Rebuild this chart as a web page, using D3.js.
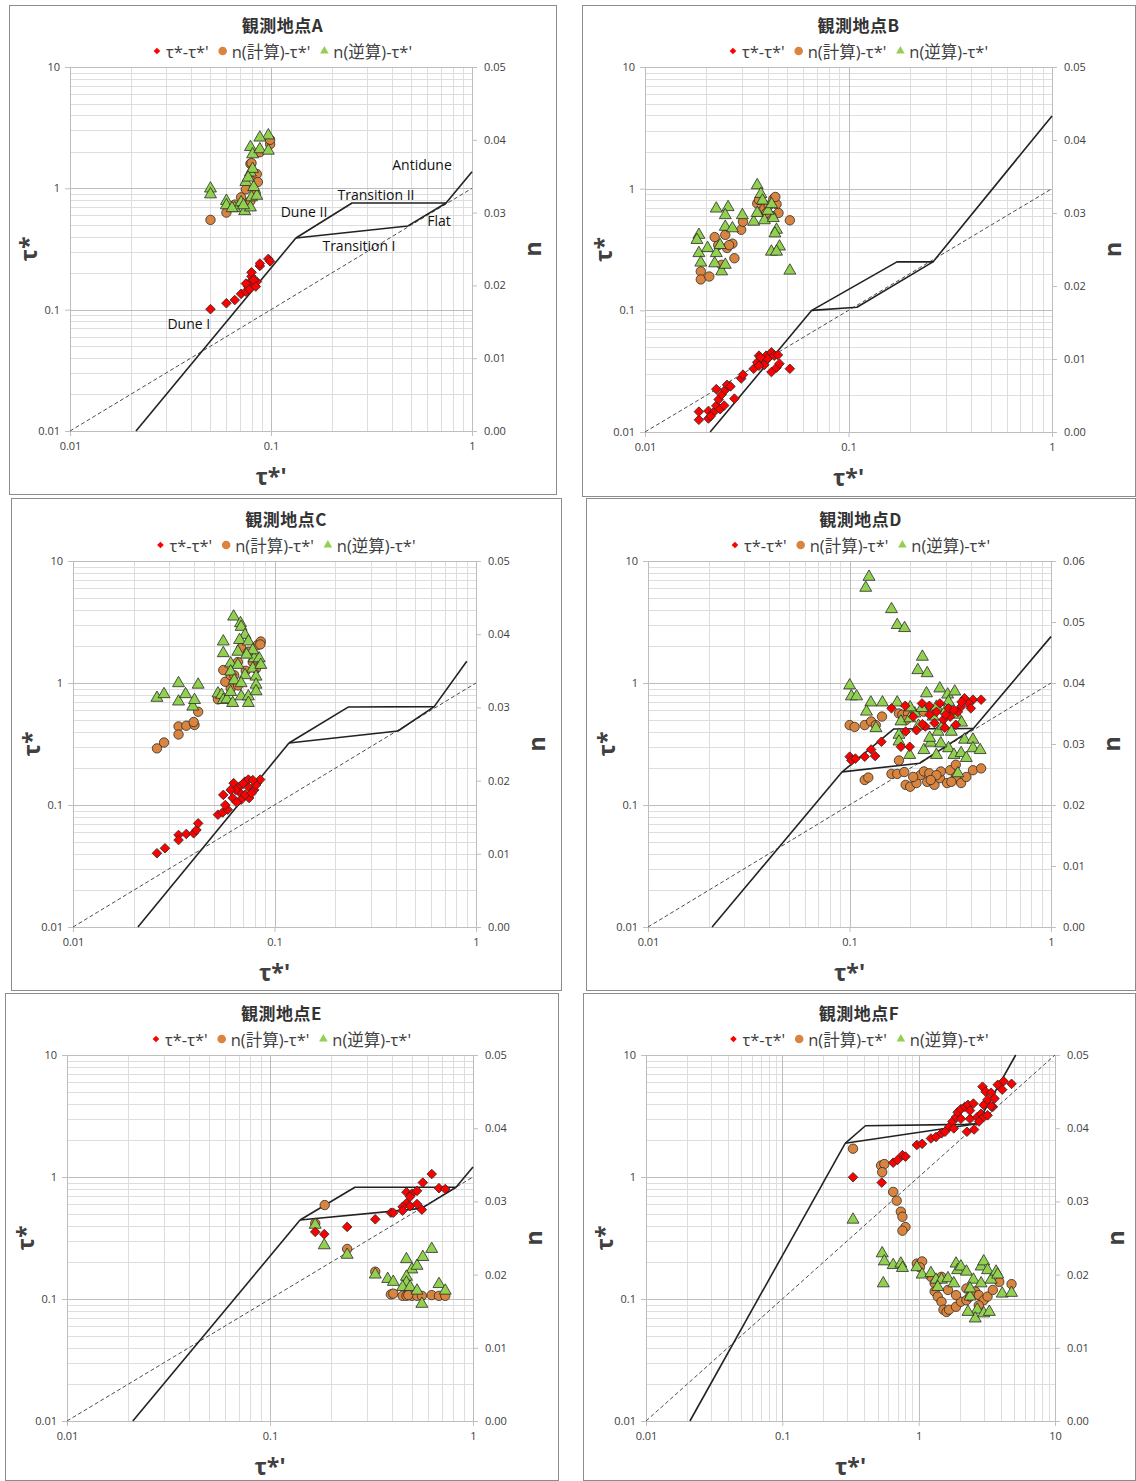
<!DOCTYPE html>
<html>
<head>
<meta charset="utf-8">
<script src="https://cdn.jsdelivr.net/npm/d3@7"></script>
<style>
  body { margin: 0; background: #fff; }
  svg { display: block; }
</style>
</head>
<body>
<svg id="chart" width="1136" height="1481"></svg>
<script>
// ---- data: [tau*', value] ----
const A_tau = [[0.050,0.101],[0.060,0.113],[0.066,0.120],[0.071,0.135],[0.075,0.141],[0.077,0.155],[0.079,0.170],[0.080,0.188],[0.075,0.164],[0.085,0.170],[0.080,0.203],[0.088,0.229],[0.088,0.240],[0.097,0.262],[0.099,0.250],[0.082,0.175],[0.078,0.147],[0.084,0.155]];
const A_nCalc = [[0.050,0.0290],[0.060,0.0300],[0.066,0.0311],[0.071,0.0321],[0.075,0.0332],[0.079,0.0367],[0.080,0.0368],[0.082,0.0351],[0.085,0.0353],[0.086,0.0342],[0.088,0.0383],[0.099,0.0394],[0.099,0.0400],[0.079,0.0316],[0.084,0.0326]];
const A_nInv = [[0.050,0.0333],[0.050,0.0325],[0.060,0.0316],[0.060,0.0310],[0.066,0.0306],[0.071,0.0314],[0.074,0.0302],[0.079,0.0307],[0.080,0.0321],[0.075,0.0342],[0.079,0.0355],[0.081,0.0360],[0.079,0.0390],[0.081,0.0380],[0.088,0.0387],[0.097,0.0406],[0.097,0.0385],[0.088,0.0403],[0.085,0.0323],[0.082,0.0335],[0.073,0.0310],[0.064,0.0306],[0.077,0.0348]];
const A_dune = [[0.0213,0.01],[0.133,0.39]];
const A_upper = [[0.133,0.39],[0.253,0.757],[0.743,0.757],[1.0,1.37]];
const A_lower = [[0.133,0.39],[0.48,0.49],[0.743,0.757]];
const A_names = [["Antidune",0.564,1.56],["Transition II",0.333,0.898],["Dune II",0.146,0.65],["Flat",0.686,0.548],["Transition I",0.274,0.335],["Dune I",0.039,0.0762]];

const B_tau = [[0.0184,0.0126],[0.0184,0.0147],[0.0205,0.0149],[0.0205,0.0129],[0.0217,0.0145],[0.0224,0.0164],[0.0234,0.0154],[0.0230,0.0185],[0.0238,0.0203],[0.0248,0.0222],[0.0224,0.0225],[0.0253,0.0244],[0.0263,0.0237],[0.0275,0.0188],[0.0297,0.0275],[0.0303,0.0296],[0.0342,0.0331],[0.0356,0.0374],[0.0363,0.0424],[0.0378,0.0398],[0.0394,0.0424],[0.0418,0.0452],[0.0432,0.0424],[0.0418,0.0311],[0.0443,0.0338],[0.0458,0.0364],[0.0515,0.0331],[0.0386,0.0356],[0.0363,0.0350],[0.0400,0.0400],[0.0450,0.0430],[0.0370,0.0410],[0.0245,0.0165],[0.0210,0.0135]];
const B_nCalc = [[0.0188,0.0220],[0.0188,0.0209],[0.0207,0.0213],[0.0238,0.0229],[0.0275,0.0238],[0.0253,0.0252],[0.0269,0.0258],[0.0229,0.0256],[0.0259,0.0256],[0.0297,0.0277],[0.0303,0.0288],[0.0356,0.0313],[0.0386,0.0306],[0.0427,0.0319],[0.0443,0.0312],[0.0453,0.0300],[0.0515,0.0290],[0.0418,0.0296],[0.0363,0.0318],[0.0394,0.0300],[0.0220,0.0267],[0.0248,0.0270],[0.0437,0.0322],[0.0405,0.0310]];
const B_nInv = [[0.0356,0.0338],[0.0371,0.0326],[0.0224,0.0306],[0.0256,0.0308],[0.0248,0.0297],[0.0301,0.0297],[0.0248,0.0281],[0.0269,0.0279],[0.0184,0.0270],[0.0342,0.0288],[0.0386,0.0290],[0.0427,0.0293],[0.0443,0.0277],[0.0356,0.0300],[0.0402,0.0303],[0.0419,0.0312],[0.0378,0.0317],[0.0435,0.0272],[0.0184,0.0245],[0.0188,0.0232],[0.0203,0.0252],[0.0224,0.0245],[0.0220,0.0231],[0.0238,0.0220],[0.0248,0.0229],[0.0418,0.0247],[0.0458,0.0254],[0.0443,0.0247],[0.0515,0.0221],[0.0180,0.0263],[0.0234,0.0256]];
const B_dune = [[0.0209,0.01],[0.066,0.1]];
const B_upper = [[0.066,0.1],[0.173,0.25],[0.26,0.25],[1.0,3.96]];
const B_lower = [[0.066,0.1],[0.11,0.106],[0.26,0.25]];

const C_tau = [[0.0261,0.0402],[0.0286,0.0442],[0.0334,0.0568],[0.0334,0.0516],[0.0365,0.0579],[0.0397,0.0586],[0.0410,0.0624],[0.0418,0.0707],[0.0524,0.0833],[0.0553,0.0869],[0.0586,0.0915],[0.0570,0.100],[0.0557,0.121],[0.0620,0.114],[0.0627,0.151],[0.0671,0.1415],[0.0678,0.125],[0.0683,0.1105],[0.0714,0.1555],[0.0742,0.1615],[0.0748,0.138],[0.0748,0.114],[0.0793,0.133],[0.0817,0.151],[0.0849,0.1615],[0.0810,0.146],[0.0643,0.133],[0.0606,0.133],[0.0714,0.121],[0.0770,0.125],[0.0650,0.105],[0.0700,0.150],[0.0780,0.160]];
const C_nCalc = [[0.0261,0.0244],[0.0283,0.0252],[0.0334,0.0274],[0.0334,0.0263],[0.0365,0.0275],[0.0401,0.0276],[0.0397,0.0280],[0.0418,0.0294],[0.0524,0.0311],[0.0606,0.0326],[0.0570,0.0335],[0.0557,0.0351],[0.0606,0.0344],[0.0658,0.0362],[0.0683,0.0381],[0.0742,0.0376],[0.0780,0.0362],[0.0823,0.0385],[0.0855,0.0390],[0.0810,0.0353],[0.0631,0.0344],[0.0720,0.0350],[0.0660,0.0330],[0.0850,0.0386]];
const C_nInv = [[0.0261,0.0313],[0.0283,0.0318],[0.0334,0.0333],[0.0334,0.0308],[0.0362,0.0318],[0.0393,0.0301],[0.0401,0.0310],[0.0418,0.0331],[0.0524,0.0319],[0.0546,0.0317],[0.0557,0.0310],[0.0580,0.0311],[0.0620,0.0306],[0.0557,0.0390],[0.0557,0.0374],[0.0627,0.0424],[0.0678,0.0415],[0.0683,0.0410],[0.0714,0.0399],[0.0671,0.0392],[0.0742,0.0390],[0.0606,0.0360],[0.0658,0.0358],[0.0606,0.0349],[0.0631,0.0337],[0.0714,0.0344],[0.0780,0.0353],[0.0793,0.0367],[0.0839,0.0367],[0.0855,0.0358],[0.0810,0.0342],[0.0810,0.0331],[0.0683,0.0333],[0.0683,0.0315],[0.0742,0.0315],[0.0742,0.0306],[0.0810,0.0322],[0.0606,0.0321],[0.0658,0.0376],[0.0780,0.0378],[0.0727,0.0372]];
const C_dune = [[0.021,0.01],[0.118,0.322]];
const C_upper = [[0.118,0.322],[0.232,0.635],[0.62,0.64],[0.90,1.51]];
const C_lower = [[0.118,0.322],[0.41,0.404],[0.62,0.64]];

const D_tau = [[0.1616,0.62],[0.189,0.65],[0.207,0.53],[0.229,0.68],[0.249,0.65],[0.281,0.68],[0.310,0.62],[0.372,0.749],[0.41,0.73],[0.45,0.73],[0.39,0.68],[0.358,0.64],[0.345,0.58],[0.316,0.53],[0.292,0.50],[0.264,0.47],[0.238,0.44],[0.215,0.41],[0.19,0.40],[0.337,0.454],[0.297,0.43],[0.144,0.33],[0.1002,0.249],[0.1022,0.232],[0.107,0.24],[0.119,0.249],[0.128,0.285],[0.134,0.252],[0.18,0.30],[0.199,0.30],[0.25,0.55],[0.33,0.60],[0.27,0.58],[0.36,0.70],[0.23,0.46],[0.40,0.62],[0.30,0.55]];
const D_nCalc = [[0.1002,0.0331],[0.106,0.0328],[0.119,0.0331],[0.128,0.0337],[0.135,0.0331],[0.145,0.0345],[0.176,0.0350],[0.183,0.0348],[0.195,0.0350],[0.234,0.0353],[0.19,0.0339],[0.119,0.0241],[0.124,0.0245],[0.1616,0.0251],[0.1725,0.0251],[0.176,0.0273],[0.187,0.0254],[0.19,0.0233],[0.20,0.0230],[0.215,0.0236],[0.225,0.0249],[0.234,0.0255],[0.249,0.0252],[0.243,0.0238],[0.264,0.0233],[0.281,0.0244],[0.284,0.0255],[0.305,0.0236],[0.316,0.0257],[0.337,0.0246],[0.337,0.0266],[0.358,0.0236],[0.38,0.0246],[0.41,0.0257],[0.45,0.0260],[0.27,0.0249],[0.207,0.0246],[0.32,0.0238],[0.253,0.0241]];
const D_nInv = [[0.125,0.0574],[0.1204,0.0556],[0.1616,0.0521],[0.1725,0.0495],[0.1876,0.0490],[0.230,0.0443],[0.2183,0.0421],[0.243,0.0416],[0.1002,0.0396],[0.1022,0.0378],[0.1085,0.0378],[0.1276,0.0368],[0.1457,0.0368],[0.1725,0.0368],[0.1214,0.0353],[0.1353,0.0326],[0.180,0.0337],[0.199,0.0342],[0.211,0.0350],[0.241,0.0383],[0.2806,0.0391],[0.307,0.0381],[0.333,0.0386],[0.310,0.0369],[0.270,0.0361],[0.229,0.0359],[0.340,0.0348],[0.275,0.0320],[0.320,0.0320],[0.372,0.0307],[0.410,0.0307],[0.176,0.0315],[0.176,0.0304],[0.199,0.0282],[0.234,0.0290],[0.253,0.0302],[0.270,0.0282],[0.310,0.0293],[0.330,0.0282],[0.358,0.0285],[0.380,0.0277],[0.410,0.0293],[0.445,0.0290],[0.345,0.0252],[0.284,0.0301],[0.26,0.0345],[0.29,0.0330],[0.22,0.0330],[0.20,0.0360],[0.36,0.0335],[0.25,0.0310],[0.30,0.0355]];
const D_dune = [[0.0208,0.01],[0.092,0.187]];
const D_upper = [[0.092,0.187],[0.166,0.42],[0.413,0.425],[1.0,2.4]];
const D_lower = [[0.092,0.187],[0.223,0.22],[0.413,0.425]];

const E_tau = [[0.626,1.058],[0.566,0.90],[0.68,0.81],[0.73,0.797],[0.47,0.75],[0.50,0.73],[0.53,0.77],[0.49,0.69],[0.47,0.61],[0.45,0.57],[0.49,0.577],[0.53,0.60],[0.56,0.54],[0.45,0.53],[0.394,0.51],[0.405,0.51],[0.33,0.45],[0.24,0.39],[0.167,0.355],[0.185,0.34]];
const E_nCalc = [[0.186,0.0295],[0.167,0.0270],[0.24,0.0235],[0.33,0.0204],[0.394,0.0173],[0.405,0.0174],[0.45,0.0171],[0.47,0.0171],[0.50,0.0171],[0.53,0.0171],[0.56,0.0171],[0.626,0.0172],[0.68,0.0171],[0.73,0.0171],[0.48,0.0172]];
const E_nInv = [[0.167,0.0268],[0.185,0.0240],[0.24,0.0227],[0.33,0.0200],[0.38,0.0194],[0.405,0.0190],[0.47,0.0221],[0.50,0.0207],[0.53,0.0212],[0.566,0.0224],[0.626,0.0235],[0.47,0.0197],[0.47,0.0189],[0.45,0.0183],[0.49,0.0183],[0.53,0.0178],[0.56,0.0160],[0.68,0.0187],[0.73,0.0178]];
const E_dune = [[0.0211,0.01],[0.1406,0.444]];
const E_upper = [[0.1406,0.444],[0.262,0.824],[0.825,0.824],[1.0,1.21]];
const E_lower = [[0.1406,0.444],[0.558,0.553],[0.825,0.824]];

const F_tau = [[0.330,0.995],[0.536,0.90],[0.65,1.31],[0.70,1.38],[0.76,1.51],[0.80,1.47],[0.97,1.83],[1.06,1.87],[1.23,2.07],[1.34,2.13],[1.47,2.28],[1.56,2.35],[1.68,2.58],[1.77,2.85],[1.88,3.1],[1.93,3.4],[2.04,3.6],[2.18,3.76],[2.3,3.9],[2.26,2.35],[2.55,2.45],[2.38,3.0],[2.69,3.1],[2.87,3.3],[3.0,3.9],[3.2,4.3],[2.94,5.5],[3.1,5.0],[3.4,4.9],[3.6,4.4],[3.5,3.76],[3.8,5.7],[4.1,5.2],[4.2,6.1],[4.8,5.8],[3.0,3.1],[3.2,3.2],[2.77,2.85],[2.04,3.0],[2.38,3.5],[2.52,4.0],[1.81,2.5],[3.4,3.8]];
const F_nCalc = [[0.330,0.0372],[0.53,0.0349],[0.56,0.0351],[0.54,0.0340],[0.65,0.0313],[0.69,0.0301],[0.74,0.0286],[0.76,0.0279],[0.80,0.0265],[0.76,0.0260],[0.97,0.0215],[1.06,0.0218],[1.02,0.0210],[1.23,0.0197],[1.31,0.0188],[1.31,0.0177],[1.38,0.0170],[1.47,0.0163],[1.52,0.0152],[1.60,0.0149],[1.67,0.0152],[1.88,0.0156],[2.04,0.0163],[2.24,0.0165],[2.38,0.0170],[2.6,0.0177],[2.76,0.0172],[3.0,0.0165],[3.2,0.0170],[3.5,0.0179],[3.9,0.0190],[4.8,0.0187],[1.64,0.0179],[1.47,0.0197],[1.88,0.0172],[2.24,0.0181],[2.76,0.0158]];
const F_nInv = [[0.330,0.0275],[0.54,0.0229],[0.55,0.0188],[0.56,0.0218],[0.65,0.0213],[0.74,0.0215],[0.76,0.0209],[0.97,0.0210],[1.06,0.0200],[1.23,0.0202],[1.34,0.0193],[1.47,0.0193],[1.64,0.0195],[1.88,0.0215],[1.93,0.0206],[2.04,0.0211],[2.24,0.0204],[2.52,0.0193],[2.87,0.0211],[3.0,0.0218],[3.2,0.0206],[3.4,0.0193],[3.7,0.0204],[3.8,0.0200],[4.1,0.0174],[4.8,0.0175],[2.38,0.0170],[2.69,0.0152],[2.6,0.0140],[3.0,0.0147],[3.3,0.0149],[2.3,0.0149],[2.38,0.0181],[1.38,0.0183],[1.81,0.0188],[2.87,0.0188]];
const F_dune = [[0.021,0.01],[0.289,1.89]];
const F_upper = [[0.289,1.89],[0.407,2.63],[2.2,2.7],[2.68,2.73],[5.15,10]];
const F_lower = [[0.289,1.89],[2.68,2.73]];

const legendNames = ["τ*-τ*'", "n(計算)-τ*'", "n(逆算)-τ*'"];

// ---- layout ----
const panels = [
  { title: "観測地点A", box: [9, 5, 556, 494], plot: [70, 67, 472, 431], xMax: 1, nMax: 0.05,
    tau: A_tau, nCalc: A_nCalc, nInv: A_nInv, lines: [A_dune, A_upper, A_lower], names: A_names },
  { title: "観測地点B", box: [582, 5, 1135, 496], plot: [645, 67, 1052, 432], xMax: 1, nMax: 0.05,
    tau: B_tau, nCalc: B_nCalc, nInv: B_nInv, lines: [B_dune, B_upper, B_lower], names: [] },
  { title: "観測地点C", box: [11, 498, 561, 990], plot: [73, 561, 476, 927], xMax: 1, nMax: 0.05,
    tau: C_tau, nCalc: C_nCalc, nInv: C_nInv, lines: [C_dune, C_upper, C_lower], names: [] },
  { title: "観測地点D", box: [586, 498, 1135, 990], plot: [648, 561, 1051, 927], xMax: 1, nMax: 0.06,
    tau: D_tau, nCalc: D_nCalc, nInv: D_nInv, lines: [D_dune, D_upper, D_lower], names: [] },
  { title: "観測地点E", box: [5, 993, 558, 1480], plot: [67, 1055, 473, 1421], xMax: 1, nMax: 0.05,
    tau: E_tau, nCalc: E_nCalc, nInv: E_nInv, lines: [E_dune, E_upper, E_lower], names: [] },
  { title: "観測地点F", box: [583, 993, 1135, 1480], plot: [646, 1055, 1055, 1421], xMax: 10, nMax: 0.05,
    tau: F_tau, nCalc: F_nCalc, nInv: F_nInv, lines: [F_dune, F_upper, F_lower], names: [] }
];

const FONT = '"Open Sans", "Noto Sans CJK JP", sans-serif';
const RED = "#ff0000", ORANGE = "#d9853f", GREEN = "#92d050", EDGE = "#2b2b2b";

const svg = d3.select("#chart");

const diamond = d3.symbol().type(d3.symbolSquare);
const tri = d3.symbol().type(d3.symbolTriangle);

panels.forEach(drawPanel);

function decadesIn(lo, hi) {
  const out = [];
  for (let e = -2; e <= 1; e++) { const v = +Math.pow(10, e).toFixed(2); if (v >= lo && v <= hi) out.push(v); }
  return out;
}
function minorIn(lo, hi) {
  const out = [];
  for (let e = -2; e <= 1; e++) for (let k = 2; k <= 9; k++) {
    const v = k * Math.pow(10, e);
    if (v > lo && v < hi) out.push(v);
  }
  return out;
}

function drawPanel(p) {
  const [bx0, by0, bx1, by1] = p.box;
  const [px0, py0, px1, py1] = p.plot;
  const g = svg.append("g");

  g.append("rect")
    .attr("x", bx0 + 0.5).attr("y", by0 + 0.5)
    .attr("width", bx1 - bx0).attr("height", by1 - by0)
    .attr("fill", "#fff").attr("stroke", "#8c8c8c");

  const x = d3.scaleLog().domain([0.01, p.xMax]).range([px0, px1]);
  const y = d3.scaleLog().domain([0.01, 10]).range([py1, py0]);
  const yn = d3.scaleLinear().domain([0, p.nMax]).range([py1, py0]);

  // grid
  const grid = g.append("g").attr("shape-rendering", "crispEdges");
  grid.selectAll(".vx").data(minorIn(0.01, p.xMax)).join("line")
    .attr("x1", d => Math.round(x(d)) + 0.5).attr("x2", d => Math.round(x(d)) + 0.5)
    .attr("y1", py0).attr("y2", py1).attr("stroke", "#dedede");
  grid.selectAll(".hy").data(minorIn(0.01, 10)).join("line")
    .attr("y1", d => Math.round(y(d)) + 0.5).attr("y2", d => Math.round(y(d)) + 0.5)
    .attr("x1", px0).attr("x2", px1).attr("stroke", "#dedede");
  grid.selectAll(".vX").data(decadesIn(0.01, p.xMax)).join("line")
    .attr("x1", d => Math.round(x(d)) + 0.5).attr("x2", d => Math.round(x(d)) + 0.5)
    .attr("y1", py0).attr("y2", py1).attr("stroke", "#bdbdbd");
  grid.selectAll(".hY").data(decadesIn(0.01, 10)).join("line")
    .attr("y1", d => Math.round(y(d)) + 0.5).attr("y2", d => Math.round(y(d)) + 0.5)
    .attr("x1", px0).attr("x2", px1).attr("stroke", "#bdbdbd");

  // axes
  const styleAxis = sel => {
    sel.select(".domain").remove();
    sel.selectAll(".tick line").attr("stroke", "#bfbfbf");
    sel.selectAll("text").attr("fill", "#404040").style("font-family", FONT).style("font-size", "11px");
  };
  g.append("g").attr("transform", `translate(${px0},0)`)
    .call(d3.axisLeft(y).tickValues(decadesIn(0.01, 10)).tickFormat(d => String(d)).tickSize(5).tickPadding(5))
    .call(styleAxis);
  g.append("g").attr("transform", `translate(${px1},0)`)
    .call(d3.axisRight(yn).tickValues(d3.range(0, p.nMax + 1e-9, 0.01)).tickFormat(d3.format(".2f")).tickSize(5).tickPadding(7))
    .call(styleAxis);
  g.append("g").attr("transform", `translate(0,${py1})`)
    .call(d3.axisBottom(x).tickValues(decadesIn(0.01, p.xMax)).tickFormat(d => String(d)).tickSize(5).tickPadding(6))
    .call(styleAxis);

  // regime lines
  const line = d3.line().x(d => x(d[0])).y(d => y(d[1]));
  g.append("path").attr("d", line([[0.01, 0.01], [p.xMax, p.xMax]]))
    .attr("fill", "none").attr("stroke", "#4d4d4d").attr("stroke-width", 1).attr("stroke-dasharray", "4,2.5");
  p.lines.forEach(l => {
    g.append("path").attr("d", line(l))
      .attr("fill", "none").attr("stroke", "#222").attr("stroke-width", 1.6).attr("stroke-linejoin", "round");
  });

  // markers
  g.append("g").selectAll("circle").data(p.nCalc).join("circle")
    .attr("cx", d => x(d[0])).attr("cy", d => yn(d[1])).attr("r", 4.7)
    .attr("fill", ORANGE).attr("stroke", EDGE).attr("stroke-width", 0.8);
  g.append("g").selectAll("path").data(p.nInv).join("path")
    .attr("d", tri.size(62)())
    .attr("transform", d => `translate(${x(d[0])},${yn(d[1])})`)
    .attr("fill", GREEN).attr("stroke", EDGE).attr("stroke-width", 0.8);
  g.append("g").selectAll("path").data(p.tau).join("path")
    .attr("d", diamond.size(46)())
    .attr("transform", d => `translate(${x(d[0])},${y(d[1])}) rotate(45)`)
    .attr("fill", RED).attr("stroke", EDGE).attr("stroke-width", 0.8);

  // regime names
  g.append("g").selectAll("text").data(p.names).join("text")
    .attr("x", d => x(d[1])).attr("y", d => y(d[2]))
    .attr("text-anchor", "middle").attr("dominant-baseline", "central")
    .style("font-family", FONT).style("font-size", "14px").attr("fill", "#111")
    .text(d => d[0]);

  const cx = (bx0 + bx1) / 2;

  // title
  g.append("text").attr("x", cx).attr("y", py0 - 43)
    .attr("text-anchor", "middle").attr("dominant-baseline", "central")
    .style("font-family", '"Noto Sans CJK JP", sans-serif').style("font-size", "17px").style("font-weight", "bold")
    .style("letter-spacing", "0.5px")
    .attr("fill", "#333").text(p.title);

  // legend
  const leg = g.append("g");
  const ly = py0 - 16;
  let pos = 0;
  const items = [];
  legendNames.forEach((name, i) => {
    const it = leg.append("g");
    if (i === 0) it.append("path").attr("d", diamond.size(22)()).attr("transform", "rotate(45)").attr("fill", RED);
    if (i === 1) it.append("circle").attr("r", 4.3).attr("fill", ORANGE);
    if (i === 2) it.append("path").attr("d", tri.size(32)()).attr("fill", GREEN);
    const t = it.append("text").attr("x", 9).attr("dominant-baseline", "central")
      .style("font-family", FONT).style("font-size", "16.5px").attr("fill", "#404040").text(name);
    const w = 9 + t.node().getComputedTextLength();
    items.push({ it, pos });
    pos += w + 14;
  });
  const total = pos - 14 + 4;
  items.forEach(o => o.it.attr("transform", `translate(${cx - total / 2 + 4 + o.pos},${ly})`));

  // axis titles
  const titleStyle = sel => sel.style("font-family", FONT).style("font-size", "23px").style("font-weight", "bold").attr("fill", "#404040");
  g.append("text").attr("x", (px0 + px1) / 2).attr("y", py1 + 45)
    .attr("text-anchor", "middle").attr("dominant-baseline", "central").call(titleStyle).text("τ*'");
  g.append("text").attr("transform", `translate(${px0 - 42},${(py0 + py1) / 2}) rotate(-90)`)
    .attr("text-anchor", "middle").attr("dominant-baseline", "central").call(titleStyle).text("τ*");
  g.append("text").attr("transform", `translate(${px1 + 60},${(py0 + py1) / 2}) rotate(-90)`)
    .attr("text-anchor", "middle").attr("dominant-baseline", "central").call(titleStyle).text("n");
}
</script>
</body>
</html>
